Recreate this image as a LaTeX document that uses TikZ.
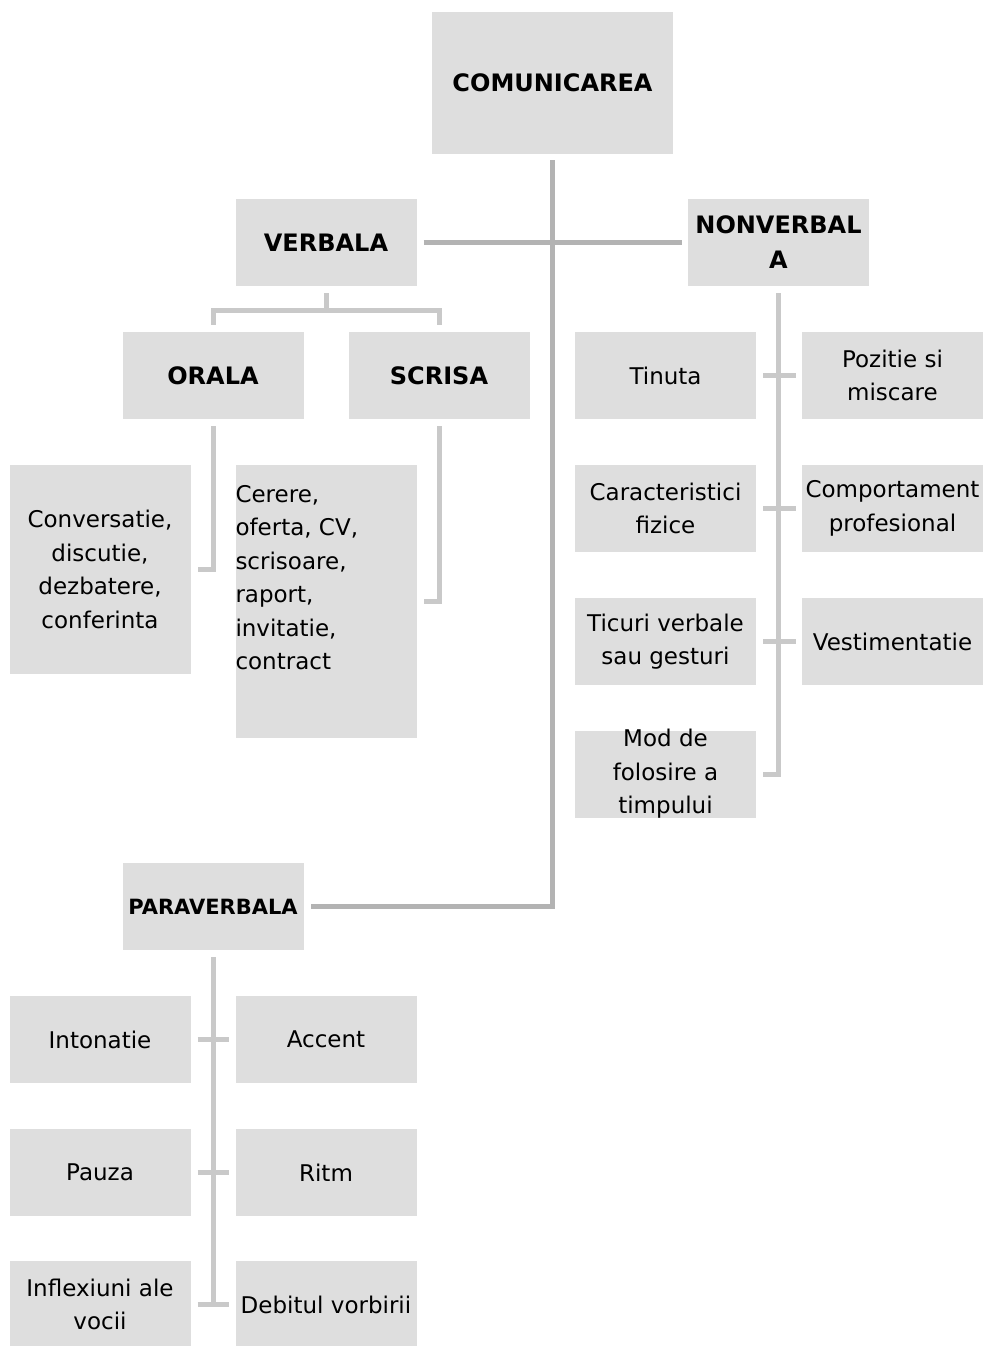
\documentclass[tikz,border=0pt]{standalone}
\usepackage{fontspec}
\setmainfont{DejaVu Sans}
\begin{document}
\definecolor{boxgray}{HTML}{DEDEDE}
\definecolor{trunkgray}{HTML}{B3B3B3}
\definecolor{branchgray}{HTML}{C9C9C9}
\begin{tikzpicture}[x=1pt,y=-1pt,
  box/.style={fill=boxgray, minimum width=181pt, minimum height=87pt, inner sep=0pt, align=center,
    font=\fontsize{23}{33.5}\selectfont},
  head/.style={box, font=\bfseries\fontsize{24}{35}\selectfont},
  trunk/.style={draw=trunkgray, line width=5pt},
  branch/.style={draw=branchgray, line width=5pt}]
\useasboundingbox (0,0) rectangle (987,1346);

% top level
\node[head, minimum width=241pt, minimum height=142pt] (com) at (552.5,83) {COMUNICAREA};
\node[head] (verb) at (326,242.5) {VERBALA};
\node[head] (nonv) at (778.5,242.5) {NONVERBAL\\A};
\node[head, font=\bfseries\fontsize{21}{30}\selectfont] (para) at (213,906.5) {PARAVERBALA};

% verbal branch
\node[head] (orala) at (213,375.5) {ORALA};
\node[head] (scrisa) at (439,375.5) {SCRISA};
\node[box, minimum height=209pt] (conv) at (100,569.5) {Conversatie,\\discutie,\\dezbatere,\\conferinta};
\node[box, align=left] (cerere) at (326,601.5)
  {\parbox[c][273pt][t]{181pt}{\raggedright\vspace*{20pt}Cerere,\\oferta, CV,\\scrisoare,\\raport,\\invitatie,\\contract}};

% nonverbal branch
\node[box] (tinuta) at (665.5,375.5) {Tinuta};
\node[box] (pozitie) at (892.5,375.5) {Pozitie si\\miscare};
\node[box] (caract) at (665.5,508.5) {Caracteristici\\fizice};
\node[box] (comport) at (892.5,508.5) {Comportament\\profesional};
\node[box] (ticuri) at (665.5,641.5) {Ticuri verbale\\sau gesturi};
\node[box] (vestim) at (892.5,641.5) {Vestimentatie};
\node[box] (mod) at (665.5,774) {\parbox[c][80pt][c]{181pt}{\centering Mod de\\folosire a\\timpului}};

% paraverbal branch
\node[box] (inton) at (100,1039.5) {Intonatie};
\node[box] (accent) at (326,1039.5) {Accent};
\node[box] (pauza) at (100,1172.5) {Pauza};
\node[box] (ritm) at (326,1172.5) {Ritm};
\node[box] (inflex) at (100,1304.5) {Inflexiuni ale\\vocii};
\node[box] (debit) at (326,1304.5) {Debitul vorbirii};

% main connectors
\draw[trunk] ([yshift=-6pt]com.south) |- ([xshift=7pt]para.east);
\draw[trunk] ([xshift=7pt]verb.east) -- ([xshift=-6pt]nonv.west);

% verbal connectors
\draw[branch] ([yshift=-7pt]verb.south) -- ([yshift=-24pt]verb.south);
\draw[branch] ([yshift=7pt]orala.north) |- ([yshift=-24pt]verb.south) -| ([yshift=7pt]scrisa.north);
\draw[branch] ([yshift=-7pt]orala.south) |- ([xshift=7pt]conv.east);
\draw[branch] ([yshift=-7pt]scrisa.south) |- ([xshift=7pt]cerere.east);

% nonverbal connectors
\draw[branch] ([yshift=-7pt]nonv.south) |- ([xshift=7pt]mod.east);
\draw[branch] ([xshift=7pt]tinuta.east) -- ([xshift=-6pt]pozitie.west);
\draw[branch] ([xshift=7pt]caract.east) -- ([xshift=-6pt]comport.west);
\draw[branch] ([xshift=7pt]ticuri.east) -- ([xshift=-6pt]vestim.west);

% paraverbal connectors
\draw[branch] ([yshift=-7pt]para.south) |- ([xshift=7pt]inflex.east);
\draw[branch] ([xshift=7pt]inflex.east) -- ([xshift=-6pt]debit.west);
\draw[branch] ([xshift=7pt]inton.east) -- ([xshift=-6pt]accent.west);
\draw[branch] ([xshift=7pt]pauza.east) -- ([xshift=-6pt]ritm.west);
\end{tikzpicture}
\end{document}
